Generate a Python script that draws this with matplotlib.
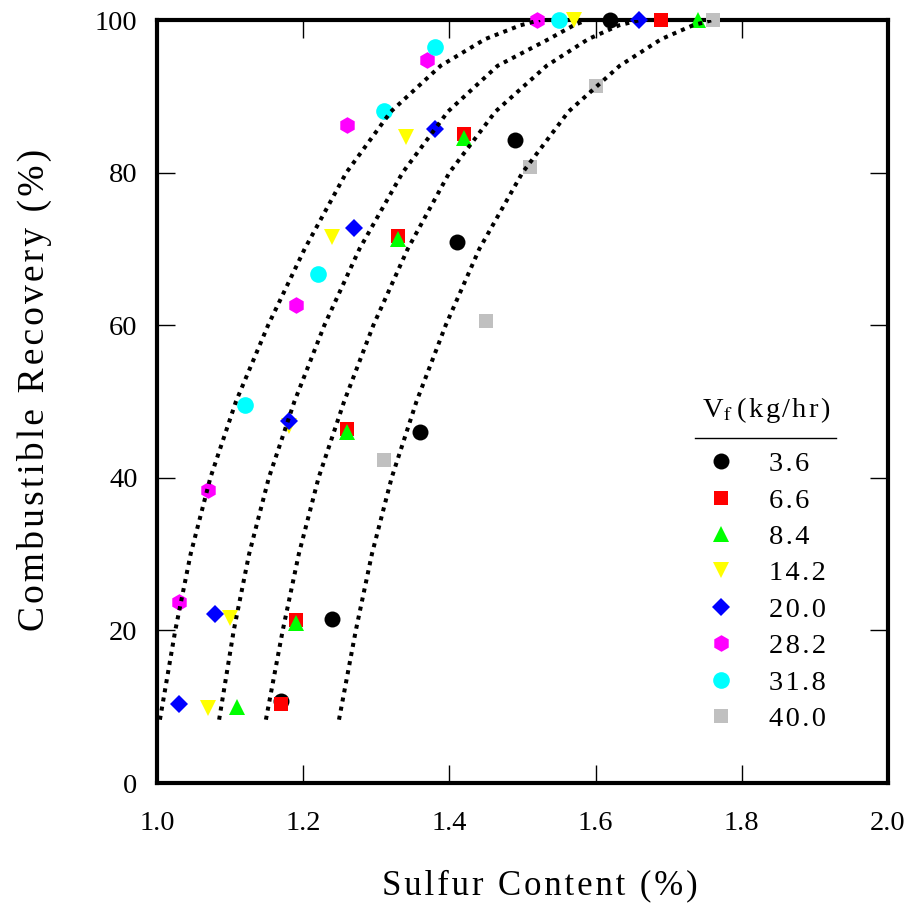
import matplotlib
matplotlib.use('Agg')
import matplotlib.pyplot as plt

plt.rcParams['font.family'] = ['Liberation Serif', 'DejaVu Serif']
plt.rcParams['mathtext.fontset'] = 'stix'

# Measured points: sulfur content (%) vs combustible recovery (%) per feed rate
feed_rates = ['3.6', '6.6', '8.4', '14.2', '20.0', '28.2', '31.8', '40.0']

sulfur_36 = [1.17, 1.24, 1.36, 1.41, 1.49, 1.62]
recov_36 = [10.7, 21.5, 46.0, 70.9, 84.3, 100]
sulfur_66 = [1.17, 1.19, 1.26, 1.33, 1.42, 1.69]
recov_66 = [10.3, 21.4, 46.4, 71.7, 85.0, 100]
sulfur_84 = [1.11, 1.19, 1.26, 1.33, 1.42, 1.74]
recov_84 = [9.9, 21.0, 46.0, 71.3, 84.6, 100]
sulfur_142 = [1.07, 1.10, 1.18, 1.24, 1.34, 1.57]
recov_142 = [9.8, 21.6, 46.8, 71.5, 84.7, 100]
sulfur_200 = [1.03, 1.08, 1.18, 1.27, 1.38, 1.66]
recov_200 = [10.3, 22.1, 47.4, 72.8, 85.7, 100]
sulfur_282 = [1.03, 1.07, 1.19, 1.26, 1.37, 1.52]
recov_282 = [23.7, 38.4, 62.6, 86.2, 94.8, 100]
sulfur_318 = [1.12, 1.22, 1.31, 1.38, 1.55]
recov_318 = [49.5, 66.7, 88.1, 96.5, 100]
sulfur_400 = [1.31, 1.45, 1.51, 1.60, 1.76]
recov_400 = [42.4, 60.5, 80.7, 91.4, 100]

# Fitted trend lines (recovery levels shared, sulfur per line)
fit_recov = [8.3, 20, 30, 40, 50, 60, 70, 80, 88, 94, 97.5, 99.3, 100]
fit1_sulfur = [1.004, 1.025, 1.046, 1.073, 1.108, 1.152, 1.202, 1.259, 1.320, 1.388, 1.449, 1.497, 1.524]
fit2_sulfur = [1.085, 1.105, 1.126, 1.153, 1.188, 1.229, 1.277, 1.336, 1.398, 1.466, 1.536, 1.570, 1.588]
fit3_sulfur = [1.149, 1.172, 1.194, 1.221, 1.256, 1.296, 1.343, 1.400, 1.463, 1.533, 1.590, 1.632, 1.661]
fit4_sulfur = [1.249, 1.272, 1.294, 1.321, 1.355, 1.395, 1.441, 1.500, 1.563, 1.633, 1.690, 1.733, 1.760]

x_ticks = [1.0, 1.2, 1.4, 1.6, 1.8, 2.0]
y_ticks = [0, 20, 40, 60, 80, 100]

series = [
    (sulfur_36, recov_36, 'o', 'black', 11.5),
    (sulfur_66, recov_66, 's', '#ff0000', 10.5),
    (sulfur_84, recov_84, '^', '#00ff00', 11.0),
    (sulfur_142, recov_142, 'v', '#ffff00', 11.0),
    (sulfur_200, recov_200, 'D', '#0000ff', 9.5),
    (sulfur_282, recov_282, 'h', '#ff00ff', 12.0),
    (sulfur_318, recov_318, 'o', '#00ffff', 12.0),
    (sulfur_400, recov_400, 's', '#c0c0c0', 10.0),
]


def spaced(text):
    return '\u200a'.join(text)


fig = plt.figure(figsize=(9.08, 9.14), dpi=100)
ax = fig.add_axes([0.1729, 0.1433, 0.805, 0.8348])

handles = []
for (xs, ys, mk, col, ms), lab in zip(series, feed_rates):
    h, = ax.plot(xs, ys, ls='none', marker=mk, color=col, ms=ms,
                 mew=0, clip_on=False, zorder=3, label=spaced(lab))
    handles.append(h)

for fx in [fit1_sulfur, fit2_sulfur, fit3_sulfur, fit4_sulfur]:
    ax.plot(fx, fit_recov, color='black', lw=2.9, ls=(0, (1, 1.3)), zorder=4)

ax.set_xlim(1.0, 2.0)
ax.set_ylim(0, 100)
ax.set_xticks(x_ticks)
ax.set_xticklabels(['%.1f' % t for t in x_ticks])
ax.set_yticks(y_ticks)
for sp in ax.spines.values():
    sp.set_linewidth(3)
ax.tick_params(direction='in', length=13, width=1, top=True, right=True,
               labelsize=20.5)
ax.tick_params(axis='x', pad=20)
ax.tick_params(axis='y', pad=14)

ax.set_xlabel(spaced('Sulfur Content (%)'), fontsize=25)
ax.xaxis.set_label_coords(0.524, -0.113)
ax.set_ylabel(spaced('Combustible Recovery (%)'), fontsize=27)
ax.yaxis.set_label_coords(-0.143, 0.515)

ax.legend(handles=handles, frameon=False, fontsize=20.5, loc='upper left',
          bbox_to_anchor=(0.7515, 0.435), borderpad=0, borderaxespad=0,
          handlelength=1.0, handletextpad=1.2, labelspacing=0.37)
ax.text(0.833, 0.489, 'V$_{\\mathrm{f}}$\u2009' + spaced('(kg/hr)'),
        transform=ax.transAxes, ha='center', va='center', fontsize=20.5)
# rule under the legend title
ax.plot([0.736, 0.929], [0.452, 0.452], transform=ax.transAxes, color='black',
        lw=1, clip_on=False)

fig.savefig('out.png', dpi=100)
